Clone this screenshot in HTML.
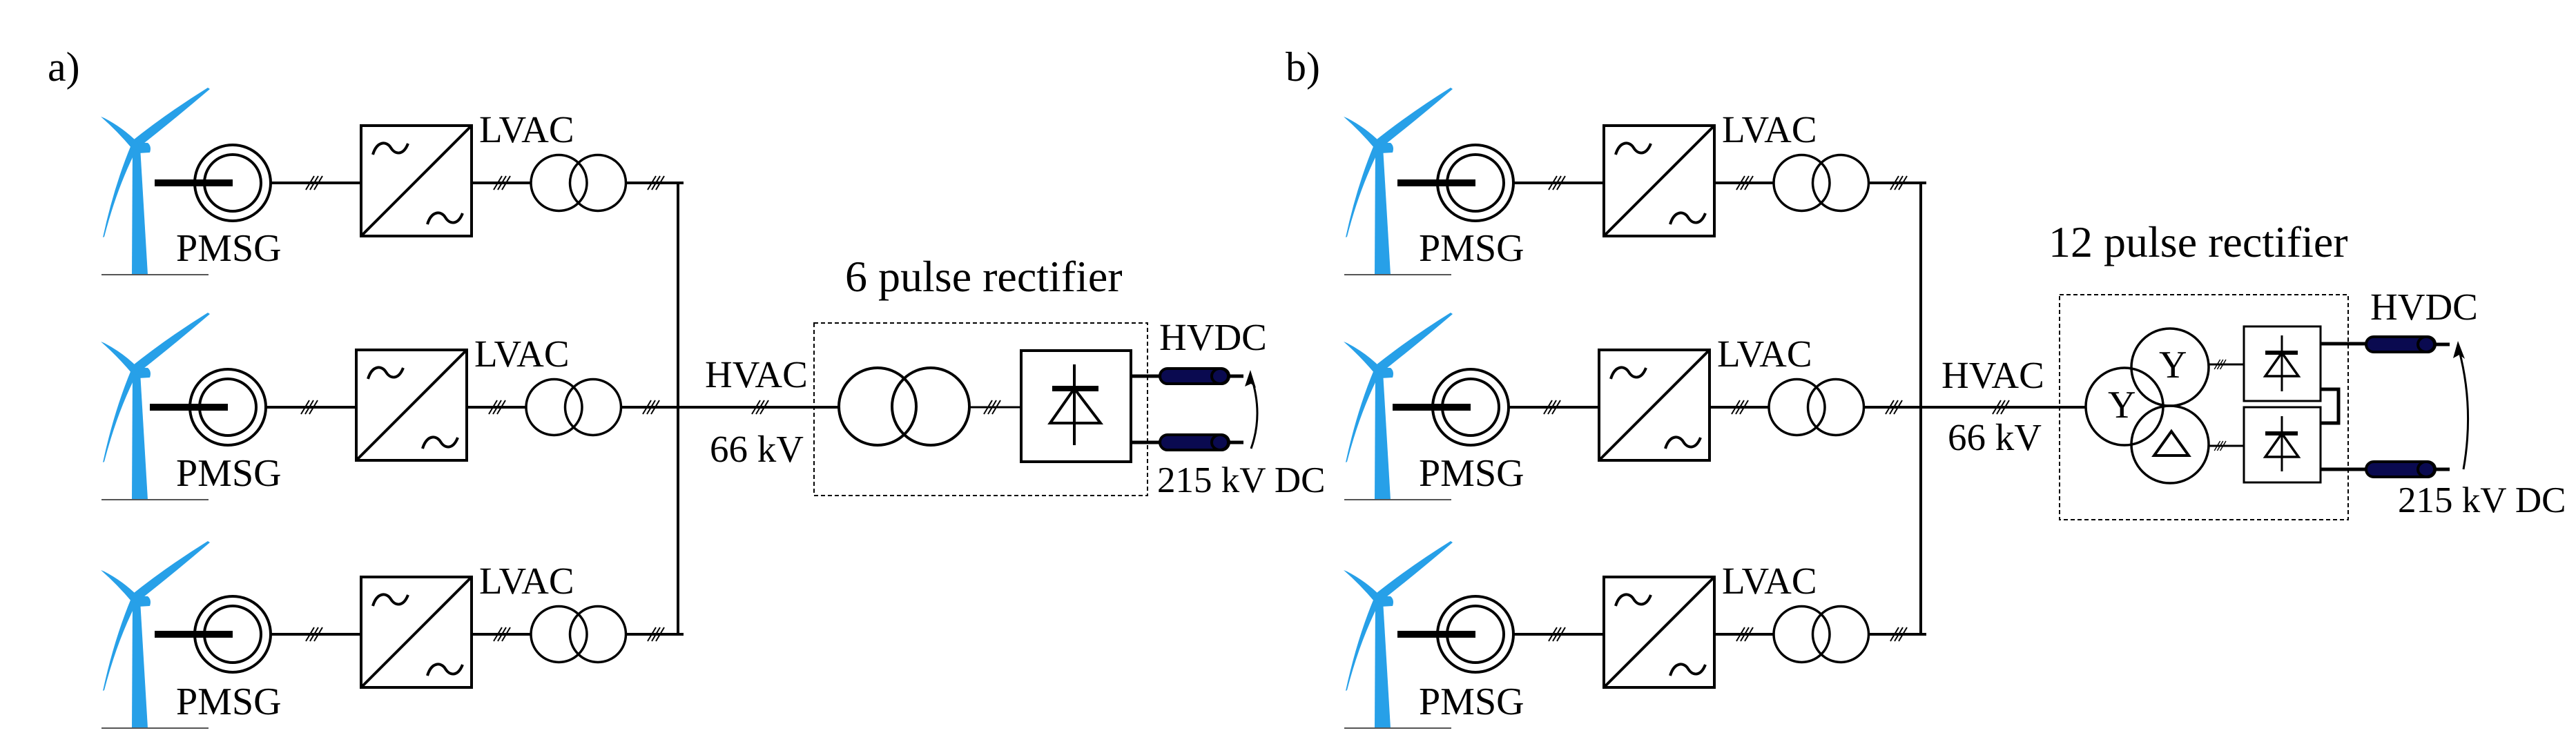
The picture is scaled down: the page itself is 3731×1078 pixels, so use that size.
<!DOCTYPE html>
<html><head><meta charset="utf-8"><style>
html,body{margin:0;padding:0;background:#fff;}
svg{display:block;font-family:'Liberation Serif','Times New Roman',serif;}
</style></head><body>
<svg width="3731" height="1078" viewBox="0 0 3731 1078" xmlns="http://www.w3.org/2000/svg" font-family="Liberation Serif, Times New Roman, serif" style="font-family:'Liberation Serif','Times New Roman',serif">
<defs>
<g id="h" stroke="#000" stroke-width="2" fill="none">
<line x1="-14" y1="10" x2="-2" y2="-10"/>
<line x1="-8" y1="10" x2="4" y2="-10"/>
<line x1="-2" y1="10" x2="10" y2="-10"/>
</g>
<g id="turb" fill="#27a0e8">
<polygon points="192,213 203,213 214,398 191,398"/>
<path d="M189,206 Q240,165 301,127 L304,129 Q250,175 199,215 Z"/>
<path d="M146,169 L151,171 Q178,185 199,206 L191,215 Q170,190 146,169 Z"/>
<path d="M149,344 L151,343 Q170,270 199,214 L190,210 Q165,270 149,344 Z"/>
<path d="M190,206 L214,207 Q220,212 217,221 L200,222 Z"/>
<circle cx="195" cy="211" r="6"/>
<line x1="147" y1="398" x2="302" y2="398" stroke="#555" stroke-width="2"/>
</g>
<g id="row">
<rect x="224" y="260" width="113" height="10" fill="#000"/>
<g fill="none" stroke="#000" stroke-width="4">
<circle cx="337" cy="265" r="55"/>
<circle cx="337" cy="265" r="41"/>
<line x1="392" y1="265" x2="523" y2="265"/>
<rect x="523" y="182" width="160" height="160"/>
<line x1="523" y1="342" x2="683" y2="182"/>
<path d="M540,224 C546,204 560,204 566,214 S584,226 591,208"/>
<path d="M619,325 C625,305 639,305 645,315 S663,327 670,309"/>
<line x1="683" y1="265" x2="769" y2="265"/>
<circle cx="809.5" cy="265" r="40.5" stroke-width="3.5"/>
<circle cx="866" cy="265" r="40.5" stroke-width="3.5"/>
<line x1="906" y1="265" x2="990" y2="265"/>
</g>
<use href="#h" x="457" y="265"/>
<use href="#h" x="729" y="265"/>
<use href="#h" x="952" y="265"/>
<text x="694" y="206" font-size="55" font-family="Liberation Serif, serif">LVAC</text>
</g>
<g id="rowT">
<use href="#turb"/>
<text x="255" y="378" font-size="56" font-family="Liberation Serif, serif">PMSG</text>
</g>
<g id="cable">
<rect x="0" y="-11" width="100" height="22" rx="11" fill="#0a0a50" stroke="#000" stroke-width="4"/>
<ellipse cx="87" cy="0" rx="12" ry="11" fill="#0a0a50" stroke="#000" stroke-width="4"/>
<line x1="100" y1="0" x2="121" y2="0" stroke="#000" stroke-width="5"/>
</g>
</defs>

<g font-family="Liberation Serif, serif">
<text x="69" y="117" font-size="60">a)</text>
<text x="1862" y="117" font-size="60">b)</text>
</g>

<use href="#rowT"/>
<use href="#rowT" y="326"/>
<use href="#rowT" y="657"/>
<use href="#row"/>
<use href="#row" x="-7" y="325"/>
<use href="#row" y="654"/>
<line x1="982" y1="263" x2="982" y2="921" stroke="#000" stroke-width="4"/>
<line x1="975" y1="590" x2="1215" y2="590" stroke="#000" stroke-width="4"/>
<use href="#h" x="1103" y="590"/>
<g font-family="Liberation Serif, serif">
<text x="1021" y="561" font-size="55">HVAC</text>
<text x="1028" y="669" font-size="55">66 kV</text>
<text x="1224" y="422" font-size="64">6 pulse rectifier</text>
<text x="1679" y="507" font-size="55">HVDC</text>
<text x="1676" y="713" font-size="53">215 kV DC</text>
</g>
<rect x="1179" y="468" width="483" height="250" fill="none" stroke="#000" stroke-width="2" stroke-dasharray="6 4"/>
<g fill="none" stroke="#000" stroke-width="4">
<circle cx="1271" cy="589" r="56"/>
<circle cx="1348" cy="589" r="56"/>
<line x1="1404" y1="590" x2="1479" y2="590" stroke-width="3"/>
<rect x="1479" y="508" width="159" height="161"/>
<line x1="1556" y1="528" x2="1556" y2="645"/>
<line x1="1524" y1="563" x2="1591" y2="563" stroke-width="8"/>
<polygon points="1556,563 1594,613 1521,613"/>
<line x1="1638" y1="545" x2="1680" y2="545" stroke-width="5"/>
<line x1="1638" y1="641" x2="1680" y2="641" stroke-width="5"/>
<path d="M1812,650 Q1830,600 1812,545" stroke-width="3"/>
</g>
<use href="#h" x="1439" y="590"/>
<use href="#cable" x="1680" y="545"/>
<use href="#cable" x="1680" y="641"/>
<polygon points="1811,536 1819,562 1812,556 1803,560" fill="#000"/>

<g transform="translate(1800,0)">
<use href="#rowT"/>
<use href="#rowT" y="326"/>
<use href="#rowT" y="657"/>
<use href="#row"/>
<use href="#row" x="-7" y="325"/>
<use href="#row" y="654"/>
<line x1="982" y1="263" x2="982" y2="921" stroke="#000" stroke-width="4"/>
</g>
<line x1="2775" y1="590" x2="3021" y2="590" stroke="#000" stroke-width="4"/>
<use href="#h" x="2900" y="590"/>
<g font-family="Liberation Serif, serif">
<text x="2812" y="562" font-size="55">HVAC</text>
<text x="2821" y="652" font-size="55">66 kV</text>
<text x="2967" y="372" font-size="64">12 pulse rectifier</text>
<text x="3053" y="605" font-size="56">Y</text>
<text x="3127" y="547" font-size="56">Y</text>
<text x="3433" y="463" font-size="55">HVDC</text>
<text x="3473" y="742" font-size="53">215 kV DC</text>
</g>
<rect x="2983" y="427" width="418" height="326" fill="none" stroke="#000" stroke-width="2" stroke-dasharray="6 4"/>
<g fill="none" stroke="#000" stroke-width="3.5">
<circle cx="3077" cy="589" r="56"/>
<circle cx="3143" cy="532" r="56"/>
<circle cx="3143" cy="644" r="56"/>
<polygon points="3145,625 3170,660 3120,660" stroke-width="4"/>
<line x1="3199" y1="528" x2="3250" y2="528" stroke-width="3"/>
<line x1="3199" y1="646" x2="3250" y2="646" stroke-width="3"/>
<rect x="3250" y="473" width="111" height="108" stroke-width="3"/>
<rect x="3250" y="590" width="111" height="109" stroke-width="3"/>
<line x1="3305" y1="486" x2="3305" y2="567" stroke-width="3"/>
<line x1="3281" y1="511" x2="3328" y2="511" stroke-width="6"/>
<polygon points="3305,511 3329,545 3281,545" stroke-width="3.5"/>
<line x1="3305" y1="603" x2="3305" y2="683" stroke-width="3"/>
<line x1="3281" y1="628" x2="3328" y2="628" stroke-width="6"/>
<polygon points="3305,628 3329,662 3281,662" stroke-width="3.5"/>
<path d="M3361,564 H3387 V613 H3361" stroke-width="5"/>
<line x1="3361" y1="498" x2="3428" y2="498" stroke-width="5"/>
<line x1="3361" y1="680" x2="3428" y2="680" stroke-width="5"/>
<path d="M3568,680 Q3584,590 3561,505" stroke-width="3"/>
</g>
<g transform="translate(3217,528) scale(0.7)"><use href="#h"/></g>
<g transform="translate(3217,646) scale(0.7)"><use href="#h"/></g>
<use href="#cable" x="3427" y="499"/>
<use href="#cable" x="3427" y="680"/>
<polygon points="3560,494 3570,520 3562,514 3553,519" fill="#000"/>
</svg>
</body></html>
